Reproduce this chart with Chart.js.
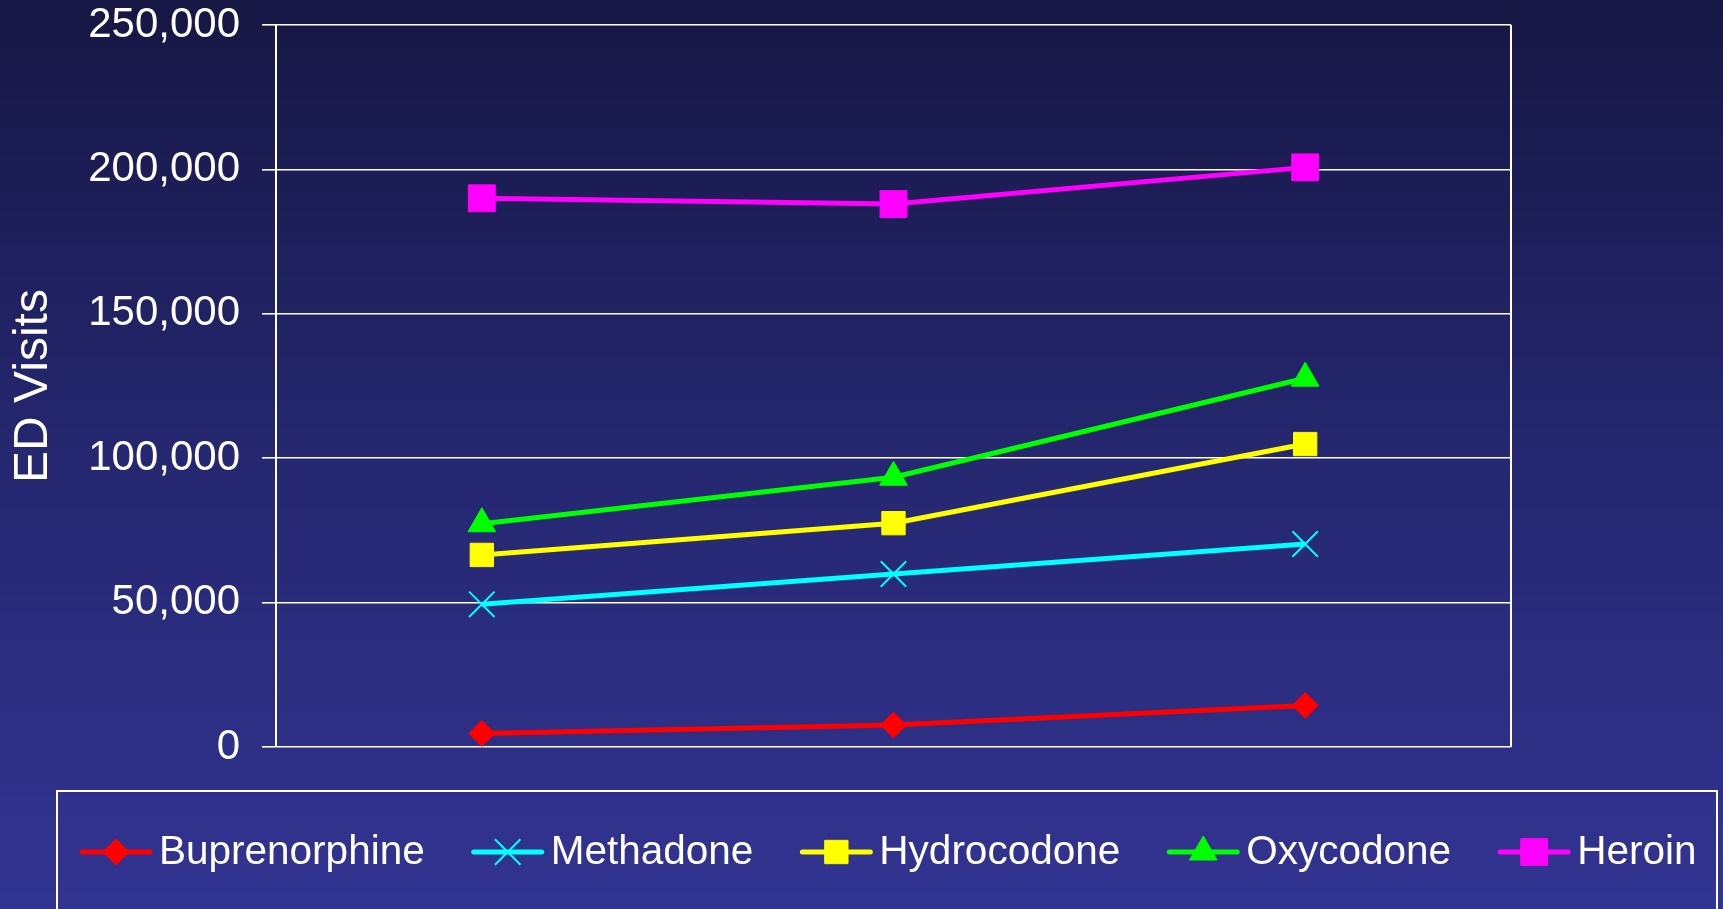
<!DOCTYPE html>
<html>
<head>
<meta charset="utf-8">
<script src="https://cdn.jsdelivr.net/npm/chart.js@4/dist/chart.umd.min.js"></script>
<style>
  html, body { margin: 0; padding: 0; background: #24266a; }
  #wrap { width: 1723px; height: 909px; position: relative; }
</style>
</head>
<body>
<div id="wrap"><canvas id="c" width="1723" height="909"></canvas></div>
<script>
const categories = ["2004", "2005", "2006"];
const seriesNames = ["Buprenorphine", "Methadone", "Hydrocodone", "Oxycodone", "Heroin"];
const buprenorphine = [4700, 7600, 14400];
const methadone = [49400, 59900, 70300];
const hydrocodone = [66500, 77500, 104900];
const oxycodone = [77300, 93400, 127700];
const heroin = [190000, 188000, 200700];
const yTicks = [0, 50000, 100000, 150000, 200000, 250000];
const yTitle = "ED Visits";

const FONT = "'Liberation Sans', Arial, Helvetica, sans-serif";

const styles = [
  { color: "#ff0000", pointStyle: "rectRot", radius: 13, bw: 1 },
  { color: "#00ffff", pointStyle: "crossRot", radius: 18, bw: 2 },
  { color: "#ffff00", pointStyle: "rect", radius: 16.5, bw: 1 },
  { color: "#00ff00", pointStyle: "triangle", radius: 16, bw: 1 },
  { color: "#ff00ff", pointStyle: "rect", radius: 19, bw: 1 }
];
const seriesData = [buprenorphine, methadone, hydrocodone, oxycodone, heroin];

const datasets = seriesNames.map((name, i) => ({
  label: name,
  data: seriesData[i],
  borderColor: styles[i].color,
  backgroundColor: styles[i].color,
  borderWidth: 5,
  pointStyle: styles[i].pointStyle,
  pointRadius: styles[i].radius,
  pointHoverRadius: styles[i].radius,
  pointBackgroundColor: styles[i].color,
  pointBorderColor: styles[i].color,
  pointBorderWidth: styles[i].bw,
  tension: 0,
  fill: false
}));

const bgPlugin = {
  id: "bg",
  beforeDraw(chart) {
    const ctx = chart.ctx;
    const g = ctx.createLinearGradient(0, 0, 0, chart.height);
    g.addColorStop(0, "#171744");
    g.addColorStop(0.5, "#252770");
    g.addColorStop(1, "#323492");
    ctx.save();
    ctx.fillStyle = g;
    ctx.fillRect(0, 0, chart.width, chart.height);
    ctx.restore();
  }
};

const framePlugin = {
  id: "frame",
  beforeDatasetsDraw(chart) {
    const { ctx, chartArea } = chart;
    ctx.save();
    ctx.strokeStyle = "#ffffff";
    ctx.lineWidth = 2;
    ctx.beginPath();
    ctx.moveTo(chartArea.right, chartArea.top);
    ctx.lineTo(chartArea.right, chartArea.bottom);
    ctx.stroke();
    ctx.restore();
  }
};

function drawMarker(ctx, style, x, y) {
  const opts = { pointStyle: style.pointStyle, radius: style.radius, rotation: 0, borderWidth: style.bw };
  ctx.fillStyle = style.color;
  ctx.strokeStyle = style.color;
  ctx.lineWidth = style.bw;
  Chart.helpers.drawPoint(ctx, opts, x, y);
}

const legendPlugin = {
  id: "customLegend",
  afterDraw(chart) {
    const ctx = chart.ctx;
    ctx.save();
    ctx.strokeStyle = "#ffffff";
    ctx.lineWidth = 2;
    ctx.strokeRect(57, 791, 1717 - 57, 200);
    ctx.font = "40.5px " + FONT;
    ctx.textBaseline = "middle";
    ctx.textAlign = "left";
    const cy = 852;
    const lineLen = 68;
    const gapText = 9;
    const gapItem = 49;
    let x = 82;
    seriesNames.forEach((name, i) => {
      const st = styles[i];
      ctx.strokeStyle = st.color;
      ctx.lineWidth = 5;
      ctx.lineCap = "round";
      ctx.beginPath();
      ctx.moveTo(x, cy);
      ctx.lineTo(x + lineLen, cy);
      ctx.stroke();
      ctx.lineCap = "butt";
      drawMarker(ctx, st, x + lineLen / 2, cy);
      const tx = x + lineLen + gapText;
      ctx.fillStyle = "#ffffff";
      ctx.fillText(name, tx, cy + 1);
      x = tx + ctx.measureText(name).width + gapItem;
    });
    ctx.restore();
  }
};

new Chart(document.getElementById("c"), {
  type: "line",
  data: { labels: categories, datasets },
  options: {
    responsive: false,
    animation: false,
    events: [],
    layout: { padding: { left: 0, top: 25, right: 212, bottom: 162 } },
    plugins: { legend: { display: false }, tooltip: { enabled: false } },
    scales: {
      x: {
        type: "category",
        display: false,
        offset: true
      },
      y: {
        min: 0,
        max: 250000,
        afterFit(scale) {
          scale.width = 276;
          scale.paddingTop = 0;
          scale.paddingBottom = 0;
        },
        afterBuildTicks(scale) { scale.ticks = yTicks.map(v => ({ value: v })); },
        ticks: {
          color: "#ffffff",
          padding: 22,
          font: { family: FONT, size: 42 },
          callback: (v) => v.toLocaleString("en-US")
        },
        grid: {
          color: "#ffffff",
          lineWidth: 1.6,
          tickLength: 14,
          drawTicks: true
        },
        border: { display: true, color: "#ffffff", width: 2 },
        title: {
          display: true,
          text: yTitle,
          color: "#ffffff",
          font: { family: FONT, size: 48 },
          padding: { top: 5, bottom: 0 }
        }
      }
    }
  },
  plugins: [bgPlugin, framePlugin, legendPlugin]
});
</script>
</body>
</html>
